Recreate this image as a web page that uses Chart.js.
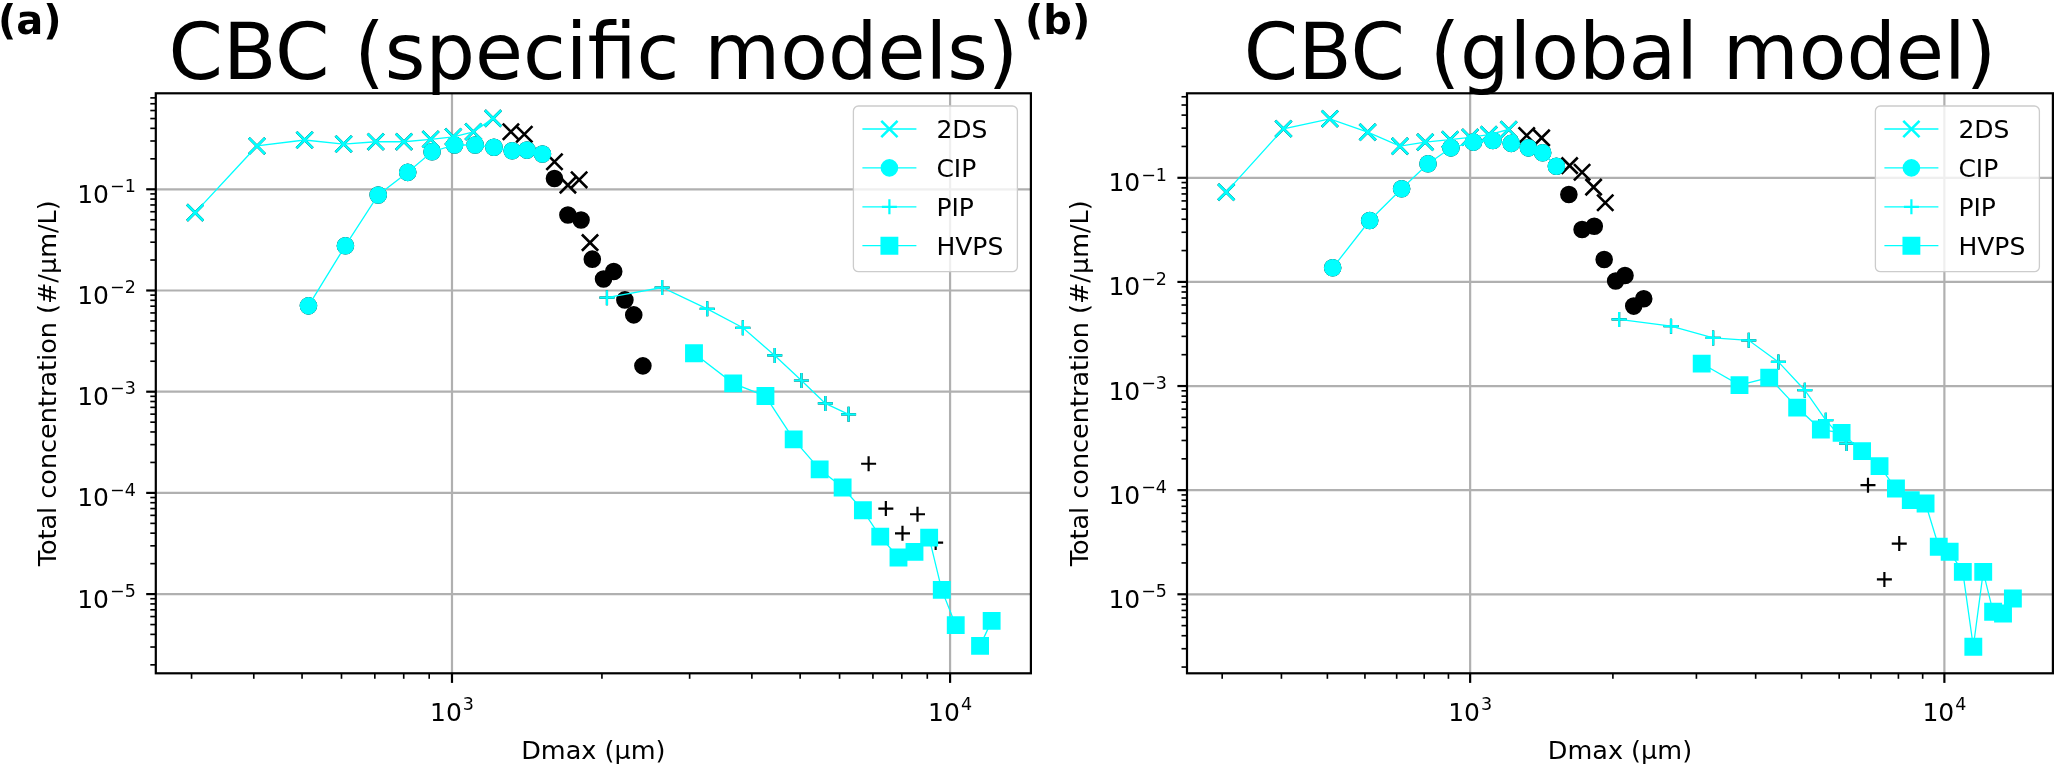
<!DOCTYPE html>
<html><head><meta charset="utf-8">
<script src="https://cdn.jsdelivr.net/npm/chart.js@4.4.1/dist/chart.umd.min.js"></script>
<style>
html,body{margin:0;padding:0;background:#fff;}
body{width:2067px;height:766px;position:relative;overflow:hidden;}
.wrap{position:absolute;top:0;height:766px;}
canvas{display:block;}
</style></head>
<body>
<div class="wrap" style="left:0px;width:1045px"><canvas id="ca" width="1045" height="766"></canvas></div>
<div class="wrap" style="left:1020px;width:1047px"><canvas id="cb" width="1047" height="766"></canvas></div>
<script>
// ---------------- data: panel (a) specific models ----------------
const A_2DS_D = [305, 406, 506, 606, 703, 801, 906, 1006, 1104, 1209];
const A_2DS_N = [0.0588, 0.268, 0.307, 0.28, 0.295, 0.295, 0.312, 0.33, 0.37, 0.502];
const A_2DS_OUT_D = [1313, 1397, 1606, 1709, 1800, 1893];
const A_2DS_OUT_N = [0.37, 0.35, 0.187, 0.110, 0.124, 0.0297];
const A_CIP_D = [515, 611, 711, 815, 912, 1012, 1113, 1214, 1321, 1414, 1519];
const A_CIP_N = [0.00705, 0.0277, 0.0879, 0.147, 0.235, 0.274, 0.274, 0.26, 0.24, 0.244, 0.223];
const A_CIP_OUT_D = [1606, 1709, 1816, 1913, 2015, 2112, 2224, 2317, 2417];
const A_CIP_OUT_N = [0.128, 0.0557, 0.0498, 0.0204, 0.0130, 0.0154, 0.00807, 0.00574, 0.0018];
const A_PIP_D = [2047, 2642, 3254, 3837, 4446, 5030, 5618, 6255];
const A_PIP_N = [0.0085, 0.0107, 0.00659, 0.00428, 0.00228, 0.00129, 0.000766, 0.000597];
const A_PIP_OUT_D = [6862, 7431, 8025, 8602, 9355];
const A_PIP_OUT_N = [1.94e-4, 7.0e-5, 3.99e-5, 6.15e-5, 3.23e-5];
const A_HVPS_D = [3061, 3669, 4259, 4853, 5472, 6085, 6683, 7241, 7878, 8483, 9078, 9623, 10265, 10870, 11487, 12119];
const A_HVPS_N = [0.0024, 0.00121, 0.000906, 0.000338, 0.000171, 0.000113, 6.73e-5, 3.70e-5, 2.30e-5, 2.61e-5, 3.61e-5, 1.10e-5, 4.93e-6, null, 3.08e-6, 5.44e-6];

// ---------------- data: panel (b) global model ----------------
const B_2DS_D = [306, 404, 506, 608, 711, 804, 907, 1000, 1095, 1206];
const B_2DS_N = [0.0729, 0.2954, 0.3685, 0.2745, 0.2013, 0.220, 0.233, 0.245, 0.26, 0.291];
const B_2DS_OUT_D = [1316, 1415, 1621, 1722, 1821, 1927];
const B_2DS_OUT_N = [0.255, 0.242, 0.131, 0.113, 0.0813, 0.0575];
const B_CIP_D = [513, 614, 717, 815, 911, 1016, 1117, 1221, 1327, 1422, 1520];
const B_CIP_N = [0.01367, 0.0389, 0.0784, 0.1363, 0.194, 0.220, 0.228, 0.214, 0.194, 0.174, 0.129];
const B_CIP_OUT_D = [1615, 1722, 1827, 1917, 2027, 2121, 2213, 2323];
const B_CIP_OUT_N = [0.0692, 0.0319, 0.0343, 0.0164, 0.0102, 0.01154, 0.00586, 0.00689];
const B_PIP_D = [2061, 2652, 3254, 3868, 4467, 5078, 5623, 6219];
const B_PIP_N = [0.00436, 0.00376, 0.0029, 0.00275, 0.001706, 0.000912, 0.00047, 0.00028];
const B_PIP_OUT_D = [6901, 7473, 8032];
const B_PIP_OUT_N = [1.116e-4, 1.39e-5, 3.07e-5];
const B_HVPS_D = [3078, 3698, 4272, 4893, 5490, 6071, 6706, 7299, 7905, 8495, 9127, 9731, 10259, 10937, 11509, 12076, 12670, 13294, 13946];
const B_HVPS_N = [0.001644, 0.00102, 0.001206, 0.000621, 0.000382, 0.000355, 0.000237, 0.00017, 0.0001037, 8.01e-5, 7.44e-5, 2.86e-5, 2.56e-5, 1.64e-5, 3.13e-6, 1.64e-5, 6.79e-6, 6.54e-6, 9.1e-6];

// ---------------- text / axis ----------------
const TITLES = ['CBC (specific models)', 'CBC (global model)'];
const LETTERS = ['(a)', '(b)'];
const LEGEND_LABELS = ['2DS', 'CIP', 'PIP', 'HVPS'];
const X_TITLE = 'Dmax (\u00b5m)';
const Y_TITLE = 'Total concentration (#/\u00b5m/L)';
const A_XLIM = [254.3, 14530], A_YLIM = [1.65e-6, 0.888];
const B_XLIM = [252.9, 16937], B_YLIM = [1.742e-6, 0.648];

// ---------------- styling ----------------
const CYAN = '#00ffff';
const FONT = '"DejaVu Sans", "Liberation Sans", sans-serif';
const STYLES = {
  '2DS':  {pointStyle: 'crossRot', r: 11.5, bw: 2.6},
  'CIP':  {pointStyle: 'circle',   r: 8,    bw: 1.6},
  'PIP':  {pointStyle: 'cross',    r: 7.5,  bw: 2.2},
  'HVPS': {pointStyle: 'rect',     r: 11.5, bw: 1.6}
};

function pts(xs, ys) { return xs.map((x, i) => ({x: x, y: ys[i]})); }

function cyanSet(label, xs, ys, order) {
  const s = STYLES[label];
  return {label, data: pts(xs, ys), order,
    showLine: true, borderColor: CYAN, borderWidth: 1.3, tension: 0, spanGaps: false,
    pointStyle: s.pointStyle, pointRadius: s.r, pointBorderWidth: s.bw,
    pointBackgroundColor: CYAN, pointBorderColor: CYAN, fill: false};
}
function blackSet(label, xs, ys, order) {
  const s = STYLES[label];
  return {label: label + ' (all)', data: pts(xs, ys), order, showLine: false,
    pointStyle: s.pointStyle, pointRadius: s.r, pointBorderWidth: s.bw,
    pointBackgroundColor: '#000', pointBorderColor: '#000', borderColor: '#000', fill: false};
}

function decades(min, max) {
  const out = [];
  for (let e = Math.floor(Math.log10(min)); e <= Math.ceil(Math.log10(max)); e++) {
    const v = Math.pow(10, e);
    if (v >= min && v <= max) out.push(e);
  }
  return out;
}
function minors(min, max) {
  const out = [];
  for (let e = Math.floor(Math.log10(min)); e <= Math.ceil(Math.log10(max)); e++) {
    for (let k = 2; k <= 9; k++) {
      const v = k * Math.pow(10, e);
      if (v >= min && v <= max) out.push(v);
    }
  }
  return out;
}

const TICK_FS = 25, EXP_FS = 17.5, RAISE = 10.7;
function powLabel(ctx, e, x, yBase, align) {
  const base = '10', ex = (e < 0 ? '\u2212' : '') + Math.abs(e);
  ctx.font = TICK_FS + 'px ' + FONT; const wb = ctx.measureText(base).width;
  ctx.font = EXP_FS + 'px ' + FONT; const we = ctx.measureText(ex).width;
  const total = wb + 1 + we;
  const x0 = align === 'right' ? x - total : x - total / 2;
  ctx.textAlign = 'left'; ctx.textBaseline = 'alphabetic'; ctx.fillStyle = '#000';
  ctx.font = TICK_FS + 'px ' + FONT; ctx.fillText(base, x0, yBase);
  ctx.font = EXP_FS + 'px ' + FONT; ctx.fillText(ex, x0 + wb + 1, yBase - RAISE);
}

function drawMarker(ctx, label, x, y) {
  const s = STYLES[label];
  ctx.save();
  ctx.fillStyle = CYAN; ctx.strokeStyle = CYAN; ctx.lineWidth = s.bw;
  ctx.beginPath();
  if (s.pointStyle === 'circle') {
    ctx.arc(x, y, s.r, 0, Math.PI * 2); ctx.fill(); ctx.stroke();
  } else if (s.pointStyle === 'rect') {
    const h = s.r * Math.SQRT1_2; ctx.rect(x - h, y - h, 2 * h, 2 * h); ctx.fill(); ctx.stroke();
  } else if (s.pointStyle === 'cross') {
    ctx.moveTo(x, y - s.r); ctx.lineTo(x, y + s.r); ctx.moveTo(x - s.r, y); ctx.lineTo(x + s.r, y); ctx.stroke();
  } else {
    const h = s.r * Math.SQRT1_2;
    ctx.moveTo(x - h, y - h); ctx.lineTo(x + h, y + h); ctx.moveTo(x - h, y + h); ctx.lineTo(x + h, y - h); ctx.stroke();
  }
  ctx.restore();
}

function roundRect(ctx, x, y, w, h, r) {
  ctx.beginPath();
  ctx.moveTo(x + r, y); ctx.lineTo(x + w - r, y); ctx.arcTo(x + w, y, x + w, y + r, r);
  ctx.lineTo(x + w, y + h - r); ctx.arcTo(x + w, y + h, x + w - r, y + h, r);
  ctx.lineTo(x + r, y + h); ctx.arcTo(x, y + h, x, y + h - r, r);
  ctx.lineTo(x, y + r); ctx.arcTo(x, y, x + r, y, r); ctx.closePath();
}

function decorPlugin(P) {
  return {
    id: 'decor' + P.idx,
    beforeDatasetsDraw(chart) {
      const ctx = chart.ctx, a = chart.chartArea, x = chart.scales.x, y = chart.scales.y;
      ctx.save();
      ctx.beginPath(); ctx.rect(a.left, a.top, a.right - a.left, a.bottom - a.top); ctx.clip();
      ctx.strokeStyle = '#b0b0b0'; ctx.lineWidth = 2.2;
      decades(x.min, x.max).forEach(e => {
        const px = x.getPixelForValue(Math.pow(10, e));
        ctx.beginPath(); ctx.moveTo(px, a.top); ctx.lineTo(px, a.bottom); ctx.stroke();
      });
      decades(y.min, y.max).forEach(e => {
        const py = y.getPixelForValue(Math.pow(10, e));
        ctx.beginPath(); ctx.moveTo(a.left, py); ctx.lineTo(a.right, py); ctx.stroke();
      });
      ctx.restore();
    },
    afterDraw(chart) {
      const ctx = chart.ctx, a = chart.chartArea, x = chart.scales.x, y = chart.scales.y;
      ctx.save();
      // ticks
      ctx.strokeStyle = '#000';
      ctx.lineWidth = 2.2;
      decades(x.min, x.max).forEach(e => {
        const px = x.getPixelForValue(Math.pow(10, e));
        ctx.beginPath(); ctx.moveTo(px, a.bottom); ctx.lineTo(px, a.bottom + 9.6); ctx.stroke();
        powLabel(ctx, e, px, a.bottom + 47.4, 'center');
      });
      decades(y.min, y.max).forEach(e => {
        const py = y.getPixelForValue(Math.pow(10, e));
        ctx.beginPath(); ctx.moveTo(a.left, py); ctx.lineTo(a.left - 9.6, py); ctx.stroke();
        powLabel(ctx, e, a.left - 20, py + 13.5, 'right');
      });
      ctx.lineWidth = 1.65;
      minors(x.min, x.max).forEach(v => {
        const px = x.getPixelForValue(v);
        ctx.beginPath(); ctx.moveTo(px, a.bottom); ctx.lineTo(px, a.bottom + 5.5); ctx.stroke();
      });
      minors(y.min, y.max).forEach(v => {
        const py = y.getPixelForValue(v);
        ctx.beginPath(); ctx.moveTo(a.left, py); ctx.lineTo(a.left - 5.5, py); ctx.stroke();
      });
      // spines
      ctx.lineWidth = 2.2; ctx.strokeStyle = '#000';
      ctx.strokeRect(a.left, a.top, a.right - a.left, a.bottom - a.top);
      // axis titles
      ctx.fillStyle = '#000';
      ctx.font = '25.5px ' + FONT; ctx.textAlign = 'center'; ctx.textBaseline = 'alphabetic';
      ctx.fillText(X_TITLE, (a.left + a.right) / 2, a.bottom + 86);
      ctx.save();
      ctx.translate(a.left - 99.5, (a.top + a.bottom) / 2);
      ctx.rotate(-Math.PI / 2);
      ctx.fillText(Y_TITLE, 0, 0);
      ctx.restore();
      // title
      ctx.font = '78px ' + FONT; ctx.textAlign = 'center';
      ctx.fillText(TITLES[P.idx], (a.left + a.right) / 2, 78.5);
      // panel letter
      ctx.font = 'bold 40px ' + FONT; ctx.textAlign = 'left';
      ctx.fillText(LETTERS[P.idx], P.letterX, 33.5);
      // legend
      const bw = 164, bh = 165.7;
      const bx = a.right - 13.5 - bw, by = a.top + 12.7;
      roundRect(ctx, bx, by, bw, bh, 5);
      ctx.fillStyle = 'rgba(255,255,255,0.8)'; ctx.fill();
      ctx.strokeStyle = '#cccccc'; ctx.lineWidth = 1.3; ctx.stroke();
      LEGEND_LABELS.forEach((lab, i) => {
        const ry = by + 23 + i * 38.9;
        ctx.strokeStyle = CYAN; ctx.lineWidth = 1.3;
        ctx.beginPath(); ctx.moveTo(bx + 9, ry); ctx.lineTo(bx + 63, ry); ctx.stroke();
        drawMarker(ctx, lab, bx + 36, ry);
        ctx.fillStyle = '#000'; ctx.font = '25px ' + FONT; ctx.textAlign = 'left'; ctx.textBaseline = 'alphabetic';
        ctx.fillText(lab, bx + 83, ry + 9);
      });
      ctx.restore();
    }
  };
}

function makePanel(P) {
  const canvas = document.getElementById(P.id);
  const W = canvas.width;
  const leftC = P.areaLeft - P.canvasLeft, rightC = P.areaRight - P.canvasLeft;
  const datasets = [
    cyanSet('HVPS', P.hvps[0], P.hvps[1], 1),
    cyanSet('PIP', P.pip[0], P.pip[1], 2),
    cyanSet('CIP', P.cip[0], P.cip[1], 3),
    cyanSet('2DS', P.tds[0], P.tds[1], 4),
    blackSet('PIP', P.pip[0].concat(P.pipOut[0]), P.pip[1].concat(P.pipOut[1]), 5),
    blackSet('CIP', P.cip[0].concat(P.cipOut[0]), P.cip[1].concat(P.cipOut[1]), 6),
    blackSet('2DS', P.tds[0].concat(P.tdsOut[0]), P.tds[1].concat(P.tdsOut[1]), 7)
  ];
  return new Chart(canvas, {
    type: 'line',
    data: {datasets},
    options: {
      responsive: false, animation: false, events: [],
      layout: {padding: {left: 0, top: 93.3, right: W - rightC, bottom: 0}},
      plugins: {legend: {display: false}, title: {display: false}, tooltip: {enabled: false}},
      scales: {
        x: {type: 'logarithmic', min: P.xlim[0], max: P.xlim[1],
            ticks: {display: false}, grid: {display: false, drawTicks: false}, border: {display: false},
            afterFit: s => { s.height = 766 - 673.3; }},
        y: {type: 'logarithmic', min: P.ylim[0], max: P.ylim[1],
            ticks: {display: false}, grid: {display: false, drawTicks: false}, border: {display: false},
            afterFit: s => { s.width = leftC; }}
      }
    },
    plugins: [decorPlugin(P)]
  });
}

makePanel({idx: 0, id: 'ca', canvasLeft: 0, areaLeft: 155.8, areaRight: 1032.5, letterX: -2,
  xlim: A_XLIM, ylim: A_YLIM,
  tds: [A_2DS_D, A_2DS_N], tdsOut: [A_2DS_OUT_D, A_2DS_OUT_N],
  cip: [A_CIP_D, A_CIP_N], cipOut: [A_CIP_OUT_D, A_CIP_OUT_N],
  pip: [A_PIP_D, A_PIP_N], pipOut: [A_PIP_OUT_D, A_PIP_OUT_N],
  hvps: [A_HVPS_D, A_HVPS_N]});
makePanel({idx: 1, id: 'cb', canvasLeft: 1020, areaLeft: 1187, areaRight: 2063.5, letterX: 5,
  xlim: B_XLIM, ylim: B_YLIM,
  tds: [B_2DS_D, B_2DS_N], tdsOut: [B_2DS_OUT_D, B_2DS_OUT_N],
  cip: [B_CIP_D, B_CIP_N], cipOut: [B_CIP_OUT_D, B_CIP_OUT_N],
  pip: [B_PIP_D, B_PIP_N], pipOut: [B_PIP_OUT_D, B_PIP_OUT_N],
  hvps: [B_HVPS_D, B_HVPS_N]});
</script>
</body></html>
